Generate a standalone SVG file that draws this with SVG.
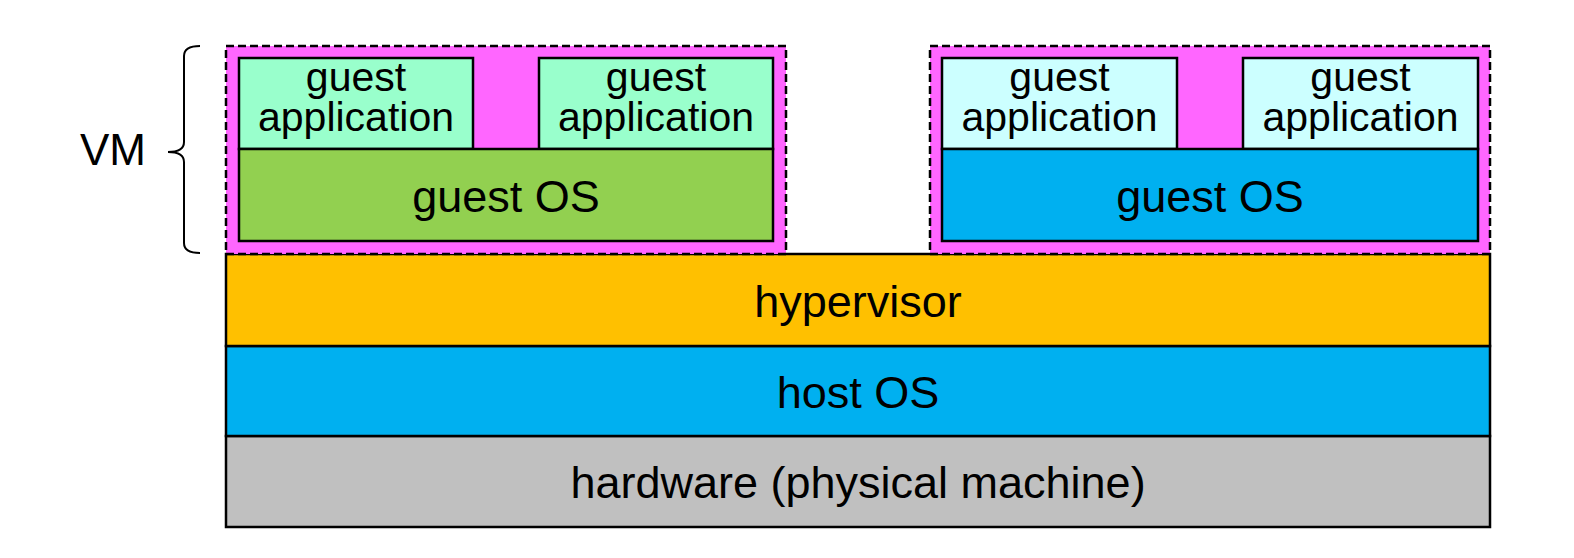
<svg xmlns="http://www.w3.org/2000/svg" width="1574" height="558" viewBox="0 0 1574 558">
<style>
  text { font-family: "Liberation Sans", Arial, sans-serif; fill: #000; text-anchor: middle; }
  .big { font-size: 45px; }
  .app { font-size: 41px; }
  .box { stroke: #000; stroke-width: 2.5; }
  .vm { fill: #FF66FF; stroke: #000; stroke-width: 2.5; stroke-dasharray: 8 4; }
</style>
<rect width="1574" height="558" fill="#fff"/>
<g id="hardware">
  <rect class="box" x="226" y="436" width="1264" height="91" fill="#C0C0C0"/>
  <text class="big" x="858" y="498">hardware (physical machine)</text>
</g>
<g id="host-os">
  <rect class="box" x="226" y="346" width="1264" height="90" fill="#00B0F0"/>
  <text class="big" x="858" y="408">host OS</text>
</g>
<g id="hypervisor">
  <rect class="box" x="226" y="254" width="1264" height="92" fill="#FFC000"/>
  <text class="big" x="858" y="317">hypervisor</text>
</g>
<g id="vm-left">
  <rect class="vm" x="226" y="46" width="560" height="208"/>
  <g id="vm-left-app1">
    <rect class="box" x="239" y="58" width="234" height="91" fill="#99FFCC"/>
    <text class="app" x="356" y="91"><tspan x="356">guest</tspan><tspan x="356" dy="40">application</tspan></text>
  </g>
  <g id="vm-left-app2">
    <rect class="box" x="539" y="58" width="234" height="91" fill="#99FFCC"/>
    <text class="app" x="656" y="91"><tspan x="656">guest</tspan><tspan x="656" dy="40">application</tspan></text>
  </g>
  <g id="vm-left-os">
    <rect class="box" x="239" y="149" width="534" height="92" fill="#92D050"/>
    <text class="big" x="506" y="212">guest OS</text>
  </g>
</g>
<g id="vm-right">
  <rect class="vm" x="930" y="46" width="560" height="208"/>
  <g id="vm-right-app1">
    <rect class="box" x="942" y="58" width="235" height="91" fill="#CCFFFF"/>
    <text class="app" x="1059.5" y="91"><tspan x="1059.5">guest</tspan><tspan x="1059.5" dy="40">application</tspan></text>
  </g>
  <g id="vm-right-app2">
    <rect class="box" x="1243" y="58" width="235" height="91" fill="#CCFFFF"/>
    <text class="app" x="1360.5" y="91"><tspan x="1360.5">guest</tspan><tspan x="1360.5" dy="40">application</tspan></text>
  </g>
  <g id="vm-right-os">
    <rect class="box" x="942" y="149" width="536" height="92" fill="#00B0F0"/>
    <text class="big" x="1210" y="212">guest OS</text>
  </g>
</g>
<g id="connectors">
  <path d="M200,46 Q184,46 184,56 L184,142 Q184,152 168,152 Q184,152 184,162 L184,243 Q184,253 200,253" fill="none" stroke="#000" stroke-width="2"/>
</g>
<g id="vm-label">
  <text class="big" x="113" y="165" style="font-size:44px">VM</text>
</g>
</svg>
